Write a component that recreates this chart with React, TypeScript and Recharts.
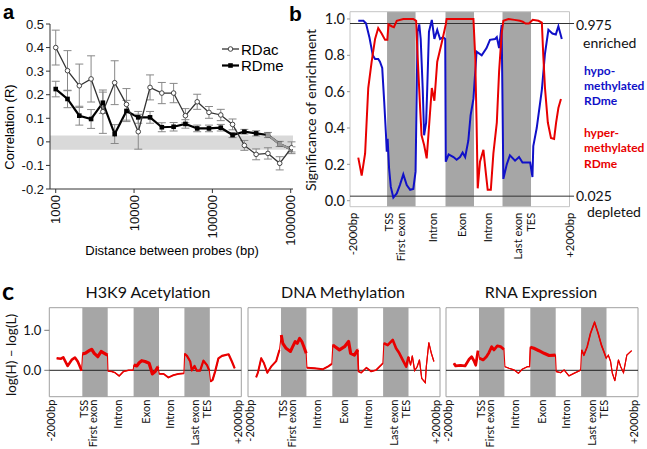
import React from 'react';
import { LineChart, Line, XAxis, YAxis, ReferenceArea, ReferenceLine, ErrorBar } from 'recharts';

// ---------- Panel a data ----------
const distances = [1000, 1414, 2000, 2828, 4000, 5657, 8000, 11314, 16000, 22627, 32000, 45255, 64000, 90510, 128000, 181019, 256000, 362039, 512000, 724077, 1024000];
const rdac = [0.40, 0.302, 0.238, 0.267, 0.128, 0.251, 0.159, 0.043, 0.231, 0.207, 0.207, 0.111, 0.170, 0.125, 0.114, 0.074, -0.015, -0.053, -0.049, -0.091, -0.025];
const rdacErr = [0.074, 0.085, 0.092, 0.098, 0.092, 0.093, 0.067, 0.074, 0.053, 0.045, 0.041, 0.03, 0.032, 0.025, 0.024, 0.023, 0.021, 0.023, 0.024, 0.028, 0.025];
const rdme = [0.224, 0.182, 0.111, 0.097, 0.166, 0.033, 0.131, 0.104, 0.104, 0.062, 0.064, 0.076, 0.057, 0.057, 0.060, 0.029, 0.043, 0.036, 0.029, -0.009, -0.032];
const rdmeErr = [0.033, 0.037, 0.04, 0.04, 0.045, 0.04, 0.045, 0.025, 0.025, 0.019, 0.018, 0.018, 0.014, 0.014, 0.014, 0.011, 0.01, 0.011, 0.011, 0.011, 0.011];
const aTicksX = [1000, 10000, 100000, 1000000];
const aTicksY = [-0.2, -0.1, 0, 0.1, 0.2, 0.3, 0.4, 0.5];
const aTickLabelsY = ['-0.2', '-0.1', '0', '0.1', '0.2', '0.3', '0.4', '0.5'];
const noiseBand = [-0.033, 0.027];

// ---------- Panel b data ----------
const geneRegionsB = [0, 1.3, 2.3, 3.35, 4.35, 5.35, 6.35, 7.7];
const geneRegionsC = [0, 1.3, 2.3, 3.32, 4.32, 5.32, 6.32, 7.56];
const geneLabels = ['-2000bp', 'TSS', 'First exon', 'Intron', 'Exon', 'Intron', 'Last exon', 'TES', '+2000bp'];
const bLabelPos = [0.1, 1.35, 1.78, 2.88, 3.9, 4.82, 5.86, 6.33, 7.7];
const cLabelPos = [0.05, 1.34, 1.72, 2.68, 3.78, 4.72, 5.71, 6.2, 7.4];
const bTicksY = [0, 0.2, 0.4, 0.6, 0.8, 1.0];
const thresholds = [0.025, 0.975];

const hypoMethylated = [
  [0.29, 0.99], [0.47, 0.99], [0.56, 0.976], [0.68, 0.9], [0.8, 0.8], [0.88, 0.78], [0.99, 0.78], [1.05, 0.765], [1.13, 0.73], [1.2, 0.545],
  [1.26, 0.37], [1.29, 0.27], [1.32, 0.34], [1.37, 0.18], [1.43, 0.077], [1.52, 0.017], [1.64, 0.04], [1.75, 0.086], [1.87, 0.145], [1.99, 0.086],
  [2.11, 0.06], [2.22, 0.065], [2.3, 0.16], [2.37, 0.93], [2.43, 0.97], [2.48, 0.89], [2.55, 0.62], [2.6, 0.36], [2.67, 0.43], [2.71, 0.62],
  [2.77, 0.93], [2.87, 0.995], [2.96, 0.89], [3.06, 0.94], [3.16, 0.89], [3.27, 0.9], [3.34, 0.89], [3.36, 0.215], [3.46, 0.255], [3.63, 0.24],
  [3.74, 0.225], [3.86, 0.24], [3.95, 0.265], [4.04, 0.24], [4.15, 0.33], [4.23, 0.47], [4.33, 0.56], [4.44, 0.82], [4.62, 0.8], [4.79, 0.84],
  [4.91, 0.885], [5.09, 0.89], [5.15, 0.9], [5.23, 0.84], [5.32, 0.967], [5.38, 0.12], [5.5, 0.2], [5.61, 0.25], [5.79, 0.22], [5.93, 0.24],
  [6.05, 0.21], [6.2, 0.21], [6.32, 0.21], [6.4, 0.13], [6.43, 0.3], [6.55, 0.4], [6.73, 0.61], [6.84, 0.81], [6.96, 0.94], [7.1, 0.92],
  [7.22, 0.915], [7.31, 0.96], [7.43, 0.89],
];
const hyperMethylated = [
  [0.29, 0.237], [0.41, 0.138], [0.53, 0.26], [0.64, 0.62], [0.76, 0.765], [0.88, 0.89], [0.99, 0.95], [1.11, 0.92], [1.23, 0.885], [1.31, 0.885],
  [1.35, 0.97], [1.46, 0.96], [1.54, 0.955], [1.64, 0.99], [1.87, 1.0], [2.22, 1.0], [2.32, 0.99], [2.37, 0.8], [2.46, 0.51], [2.51, 0.36],
  [2.6, 0.306], [2.69, 0.233], [2.75, 0.36], [2.87, 0.62], [2.96, 0.55], [3.06, 0.765], [3.22, 0.87], [3.36, 0.97], [3.39, 1.0], [4.33, 1.0],
  [4.39, 0.8], [4.44, 0.435], [4.48, 0.068], [4.56, 0.215], [4.68, 0.28], [4.76, 0.16], [4.83, 0.06], [4.94, 0.06], [5.03, 0.26], [5.15, 0.43],
  [5.23, 0.71], [5.32, 0.92], [5.38, 0.99], [5.56, 1.0], [5.77, 0.995], [5.96, 0.99], [6.06, 0.985], [6.16, 0.975], [6.28, 0.975], [6.41, 0.995],
  [6.61, 0.99], [6.73, 0.98], [6.78, 0.8], [6.84, 0.62], [6.94, 0.43], [7.05, 0.345], [7.16, 0.34], [7.23, 0.43], [7.31, 0.51], [7.4, 0.56],
];

// ---------- Panel c data ----------
const cTitles = ['H3K9 Acetylation', 'DNA Methylation', 'RNA Expression'];
const cTicksY = [0, 1];
const h3k9Acetylation = [
  [0.29, 0.3], [0.46, 0.29], [0.55, 0.325], [0.72, 0.11], [0.88, 0.26], [1.01, 0.32], [1.12, 0.22], [1.18, 0.13], [1.27, -0.01], [1.31, 0.41],
  [1.41, 0.425], [1.57, 0.49], [1.67, 0.525], [1.77, 0.425], [1.91, 0.34], [2.04, 0.47], [2.17, 0.425], [2.29, 0.38], [2.31, -0.02], [2.46, -0.03],
  [2.59, -0.06], [2.75, -0.14], [2.92, -0.03], [3.12, 0.0], [3.3, 0.0], [3.33, 0.13], [3.45, 0.11], [3.54, 0.19], [3.64, 0.24], [3.77, 0.22],
  [3.93, 0.175], [4.06, -0.09], [4.17, -0.03], [4.28, 0.09], [4.33, -0.09], [4.5, -0.09], [4.69, -0.18], [4.89, -0.12], [5.09, -0.09], [5.3, -0.075],
  [5.33, 0.41], [5.42, 0.36], [5.55, 0.22], [5.61, 0.0], [5.72, 0.11], [5.81, -0.01], [5.94, -0.01], [6.07, 0.24], [6.21, 0.13], [6.3, -0.01],
  [6.35, -0.28], [6.43, -0.24], [6.53, -0.03], [6.66, 0.3], [6.8, 0.36], [7.06, 0.4], [7.19, 0.22], [7.3, 0.05],
];
const dnaMethylation = [
  [0.32, -0.175], [0.39, -0.06], [0.52, 0.3], [0.62, 0.19], [0.76, -0.06], [0.91, 0.09], [1.11, 0.23], [1.24, 0.51], [1.31, 0.88], [1.37, 0.675],
  [1.5, 0.55], [1.67, 0.47], [1.76, 0.59], [1.86, 0.72], [1.94, 0.675], [2.03, 0.8], [2.12, 0.72], [2.2, 0.59], [2.29, 0.425], [2.32, 0.065],
  [2.62, 0.05], [2.94, 0.025], [3.14, 0.09], [3.3, 0.16], [3.34, 0.63], [3.43, 0.59], [3.6, 0.51], [3.8, 0.59], [3.96, 0.72], [4.04, 0.425],
  [4.19, 0.38], [4.32, 0.51], [4.35, -0.03], [4.46, -0.06], [4.66, 0.065], [4.85, -0.03], [5.05, 0.01], [5.24, 0.13], [5.31, 0.175], [5.35, 0.675],
  [5.5, 0.63], [5.7, 0.76], [5.83, 0.55], [5.96, 0.425], [6.09, 0.26], [6.23, 0.09], [6.32, 0.34], [6.4, 0.13], [6.47, 0.36], [6.56, -0.01],
  [6.66, 0.09], [6.75, 0.26], [6.84, -0.2], [6.98, -0.31], [7.02, 0.09], [7.12, 0.69], [7.22, 0.425], [7.32, 0.22],
];
const rnaExpression = [
  [0.31, 0.175], [0.38, 0.11], [0.57, 0.125], [0.75, 0.11], [0.91, 0.275], [1.01, 0.34], [1.1, 0.24], [1.17, 0.13], [1.26, 0.49], [1.32, 0.3],
  [1.46, 0.26], [1.59, 0.34], [1.69, 0.44], [1.8, 0.59], [1.89, 0.51], [2.02, 0.61], [2.15, 0.59], [2.28, 0.525], [2.32, 0.09], [2.48, 0.05],
  [2.68, 0.01], [2.85, -0.075], [3.0, 0.025], [3.2, 0.09], [3.29, 0.09], [3.32, 0.575], [3.46, 0.55], [3.66, 0.49], [3.86, 0.425], [4.06, 0.37],
  [4.31, 0.38], [4.34, -0.03], [4.51, -0.06], [4.65, 0.01], [4.84, -0.14], [5.04, -0.075], [5.24, -0.015], [5.3, 0.01], [5.34, 0.51], [5.43, 0.38],
  [5.56, 0.59], [5.69, 0.925], [5.85, 1.2], [5.99, 0.925], [6.12, 0.63], [6.24, 0.425], [6.31, 0.3], [6.39, 0.38], [6.48, 0.22], [6.55, -0.075],
  [6.65, -0.26], [6.79, 0.26], [6.88, 0.09], [6.99, -0.06], [7.12, 0.38], [7.31, 0.49],
];
const h3k9Widths = [2.6, 3.2, 1.4, 3.2, 1.8, 2.2, 2.2];
const dnaWidths = [2.0, 3.0, 2.0, 3.2, 1.6, 2.6, 1.2];
const rnaWidths = [2.8, 2.8, 1.2, 3.2, 1.3, 1.6, 1.1];

// ---------- styling / layout ----------
const A_FONT = "'Liberation Sans', Arial, sans-serif";
const B_FONT = "Lato, 'Noto Sans', sans-serif";
const RED = '#e80000';
const BLUE = '#1010c8';
const BAND = '#a6a6a6';
const C_PAD = 12;

const toXY = (arr: number[][]) => arr.map(([x, y]) => ({ x, y }));
const greyBands = (r: number[]) => [[r[1], r[2]], [r[3], r[4]], [r[5], r[6]]];

const rotTick = (labels: string[] | null, positions: number[] | null, size: number, family: string, dy: number) =>
  (props: any) => {
    const { x, y, payload } = props;
    let label = String(payload.value);
    if (labels && positions) {
      const i = positions.indexOf(payload.value);
      label = i >= 0 ? labels[i] : '';
    }
    const yy = y + dy;
    return (
      <text x={x} y={yy} transform={`rotate(-90 ${x} ${yy})`} textAnchor="end" dominantBaseline="central"
        fontSize={size} fontFamily={family} fill="#111">{label}</text>
    );
  };

const squareDot = (color: string) => (props: any) => {
  const { cx, cy, index } = props;
  return <rect key={`sq-${color}-${index}`} x={cx - 2.3} y={cy - 2.3} width={4.6} height={4.6} fill={color} />;
};

function PanelA() {
  const data = distances.map((d, i) => ({ d, ac: rdac[i], acErr: rdacErr[i], me: rdme[i], meErr: rdmeErr[i] }));
  const tail = data.slice(18);
  return (
    <LineChart width={300} height={260} margin={{ top: 24, right: 7, bottom: 0, left: 0 }} data={data}>
      <XAxis dataKey="d" type="number" scale="log" domain={[845, 1070000]} allowDataOverflow ticks={aTicksX} interval={0}
        height={71} tickSize={4} tickMargin={2} stroke="#333" tick={rotTick(null, null, 13, A_FONT, 0)} />
      <YAxis type="number" domain={[-0.2, 0.5]} ticks={aTicksY} interval={0} width={50} tickSize={4} tickMargin={2} stroke="#333"
        tickFormatter={(v: number) => aTickLabelsY[aTicksY.indexOf(v)] ?? String(v)}
        tick={{ fontSize: 13, fontFamily: A_FONT, fill: '#111' }} allowDataOverflow />
      <ReferenceArea y1={noiseBand[0]} y2={noiseBand[1]} fill="#d9d9d9" fillOpacity={1} stroke="none" />
      <Line dataKey="me" stroke="#000" strokeWidth={2.2} dot={squareDot('#000')} isAnimationActive={false}>
        <ErrorBar dataKey="meErr" width={4} stroke="#888" strokeWidth={1} direction="y" />
      </Line>
      <Line data={tail} dataKey="me" stroke="#9a9a9a" strokeWidth={2.2} dot={squareDot('#9a9a9a')} isAnimationActive={false} />
      <Line dataKey="ac" stroke="#333" strokeWidth={1.3} dot={{ r: 2.3, fill: '#fff', stroke: '#444', strokeWidth: 1 }} isAnimationActive={false}>
        <ErrorBar dataKey="acErr" width={4} stroke="#888" strokeWidth={1} direction="y" />
      </Line>
    </LineChart>
  );
}

function PanelB() {
  return (
    <LineChart width={347} height={275} margin={{ top: 11.7, right: 77.5, bottom: 0, left: 0 }}>
      <XAxis dataKey="x" type="number" domain={[0, 7.7]} allowDataOverflow ticks={bLabelPos} interval={0} height={68.3}
        tickSize={0} tickMargin={0} tickLine={false} axisLine={false} tick={rotTick(geneLabels, bLabelPos, 11.2, B_FONT, 6)} />
      <YAxis type="number" domain={[-0.033, 1.04]} allowDataOverflow ticks={bTicksY} interval={0} width={50} tickSize={3} tickMargin={2}
        axisLine={false} stroke="#999" tickFormatter={(v: number) => v.toFixed(1)} tick={{ fontSize: 14.5, fontFamily: B_FONT, fill: '#111' }} />
      {greyBands(geneRegionsB).map(([a, b], i) => (
        <ReferenceArea key={`bb${i}`} x1={a} x2={b} fill={BAND} fillOpacity={1} stroke="none" ifOverflow="visible" />
      ))}
      <ReferenceArea x1={0} x2={7.7} y1={-0.033} y2={1.04} fill="none" fillOpacity={0} stroke="#c4c4c4" ifOverflow="visible" />
      {thresholds.map((t) => (
        <ReferenceLine key={`t${t}`} segment={[{ x: 0, y: t }, { x: 7.86, y: t }]} stroke="#333" strokeWidth={1} ifOverflow="visible" />
      ))}
      <Line data={toXY(hypoMethylated)} dataKey="y" stroke={BLUE} strokeWidth={2} dot={false} isAnimationActive={false} />
      <Line data={toXY(hyperMethylated)} dataKey="y" stroke={RED} strokeWidth={2} dot={false} isAnimationActive={false} />
    </LineChart>
  );
}

function PanelC({ series, widths, showY, yWidth }: { series: number[][]; widths: number[]; showY: boolean; yWidth: number }) {
  const pts = toXY(series);
  const r = geneRegionsC;
  const leftPad = showY ? 0 : C_PAD;
  return (
    <LineChart width={yWidth + leftPad + 192 + C_PAD} height={169} margin={{ top: 27.7, right: C_PAD, bottom: 0, left: leftPad }}>
      <XAxis dataKey="x" type="number" domain={[0, 7.56]} allowDataOverflow ticks={cLabelPos} interval={0} height={52.3}
        tickSize={0} tickMargin={0} tickLine={false} axisLine={false} tick={rotTick(geneLabels, cLabelPos, 11, B_FONT, 3)} />
      <YAxis type="number" domain={[-0.66, 1.565]} allowDataOverflow ticks={cTicksY} interval={0} width={yWidth} hide={!showY}
        tickSize={5} tickMargin={3} axisLine={false} stroke="#777" tickFormatter={(v: number) => v.toFixed(1)}
        tick={{ fontSize: 13, fontFamily: B_FONT, fill: '#111' }} />
      {greyBands(r).map(([a, b], i) => (
        <ReferenceArea key={`cb${i}`} x1={a} x2={b} fill={BAND} fillOpacity={1} stroke="none" ifOverflow="visible" />
      ))}
      <ReferenceArea x1={0} x2={7.56} y1={-0.66} y2={1.565} fill="none" fillOpacity={0} stroke="#a0a0a0" ifOverflow="visible" />
      <ReferenceLine y={0} stroke="#222" strokeWidth={1} />
      <Line data={pts} dataKey="y" stroke={RED} strokeWidth={1.1} dot={false} isAnimationActive={false} />
      {widths.map((w, i) => (
        <Line key={`seg${i}`} data={pts.filter((p) => p.x >= r[i] && p.x <= r[i + 1])} dataKey="y" stroke={RED}
          strokeWidth={w} dot={false} isAnimationActive={false} strokeLinejoin="round" />
      ))}
    </LineChart>
  );
}

export default function App() {
  const txt = { fontFamily: B_FONT, fill: '#111' } as const;
  return (
    <div style={{ position: 'absolute', left: 0, top: 0, width: 647, height: 449, background: '#fff', overflow: 'hidden' }}>
      <div style={{ position: 'absolute', left: 0, top: 0 }}><PanelA /></div>
      <div style={{ position: 'absolute', left: 300, top: 0 }}><PanelB /></div>
      <div style={{ position: 'absolute', left: 0, top: 280 }}>
        <PanelC series={h3k9Acetylation} widths={h3k9Widths} showY yWidth={49.3} />
      </div>
      <div style={{ position: 'absolute', left: 247.5 - C_PAD, top: 280 }}>
        <PanelC series={dnaMethylation} widths={dnaWidths} showY={false} yWidth={0} />
      </div>
      <div style={{ position: 'absolute', left: 445.7 - C_PAD, top: 280 }}>
        <PanelC series={rnaExpression} widths={rnaWidths} showY={false} yWidth={0} />
      </div>
      <svg width={647} height={449} style={{ position: 'absolute', left: 0, top: 0, pointerEvents: 'none' }}>
        <text x={3} y={19} fontSize={20} fontWeight="bold" fontFamily={A_FONT}>a</text>
        <text x={289} y={21} fontSize={21} fontWeight="bold" fontFamily={A_FONT}>b</text>
        <text x={2} y={300} fontSize={25} fontWeight="bold" fontFamily={B_FONT}>c</text>
        <text x={9} y={127} transform="rotate(-90 9 127)" textAnchor="middle" dominantBaseline="central" fontSize={13} fontFamily={A_FONT}>Correlation (R)</text>
        <text x={172} y={250} textAnchor="middle" dominantBaseline="central" fontSize={13} fontFamily={A_FONT}>Distance between probes (bp)</text>
        {/* legend a */}
        <line x1={222} y1={49} x2={239} y2={49} stroke="#333" strokeWidth={1.3} />
        <circle cx={230.5} cy={49} r={2.3} fill="#fff" stroke="#444" strokeWidth={1} />
        <text x={241} y={49} dominantBaseline="central" fontSize={15} fontFamily={A_FONT}>RDac</text>
        <line x1={222} y1={65.5} x2={239} y2={65.5} stroke="#000" strokeWidth={2.2} />
        <rect x={228.2} y={63.2} width={4.6} height={4.6} fill="#000" />
        <text x={241} y={65.5} dominantBaseline="central" fontSize={15} fontFamily={A_FONT}>RDme</text>
        {/* panel b annotations */}
        <text x={310} y={110} transform="rotate(-90 310 110)" textAnchor="middle" dominantBaseline="central" fontSize={14} {...txt}>Significance of enrichment</text>
        <text x={576} y={24} dominantBaseline="central" fontSize={14} {...txt}>0.975</text>
        <text x={583} y={42} dominantBaseline="central" fontSize={14} {...txt}>enriched</text>
        <text x={584} y={70} dominantBaseline="central" fontSize={12} fontWeight="bold" fontFamily={B_FONT} fill={BLUE}>hypo-</text>
        <text x={584} y={85.5} dominantBaseline="central" fontSize={12} fontWeight="bold" fontFamily={B_FONT} fill={BLUE}>methylated</text>
        <text x={584} y={100.5} dominantBaseline="central" fontSize={12} fontWeight="bold" fontFamily={B_FONT} fill={BLUE}>RDme</text>
        <text x={584} y={132} dominantBaseline="central" fontSize={12} fontWeight="bold" fontFamily={B_FONT} fill={RED}>hyper-</text>
        <text x={584} y={147.5} dominantBaseline="central" fontSize={12} fontWeight="bold" fontFamily={B_FONT} fill={RED}>methylated</text>
        <text x={584} y={163} dominantBaseline="central" fontSize={12} fontWeight="bold" fontFamily={B_FONT} fill={RED}>RDme</text>
        <text x={576} y={195} dominantBaseline="central" fontSize={14} {...txt}>0.025</text>
        <text x={587} y={211} dominantBaseline="central" fontSize={14} {...txt}>depleted</text>
        {/* panel c titles */}
        <text x={148} y={298} textAnchor="middle" fontSize={16} {...txt}>{cTitles[0]}</text>
        <text x={343} y={298} textAnchor="middle" fontSize={16} {...txt}>{cTitles[1]}</text>
        <text x={541} y={298} textAnchor="middle" fontSize={16} {...txt}>{cTitles[2]}</text>
        <text x={11} y={355} transform="rotate(-90 11 355)" textAnchor="middle" dominantBaseline="central" fontSize={13.5} {...txt}>log(H) – log(L)</text>
      </svg>
    </div>
  );
}
